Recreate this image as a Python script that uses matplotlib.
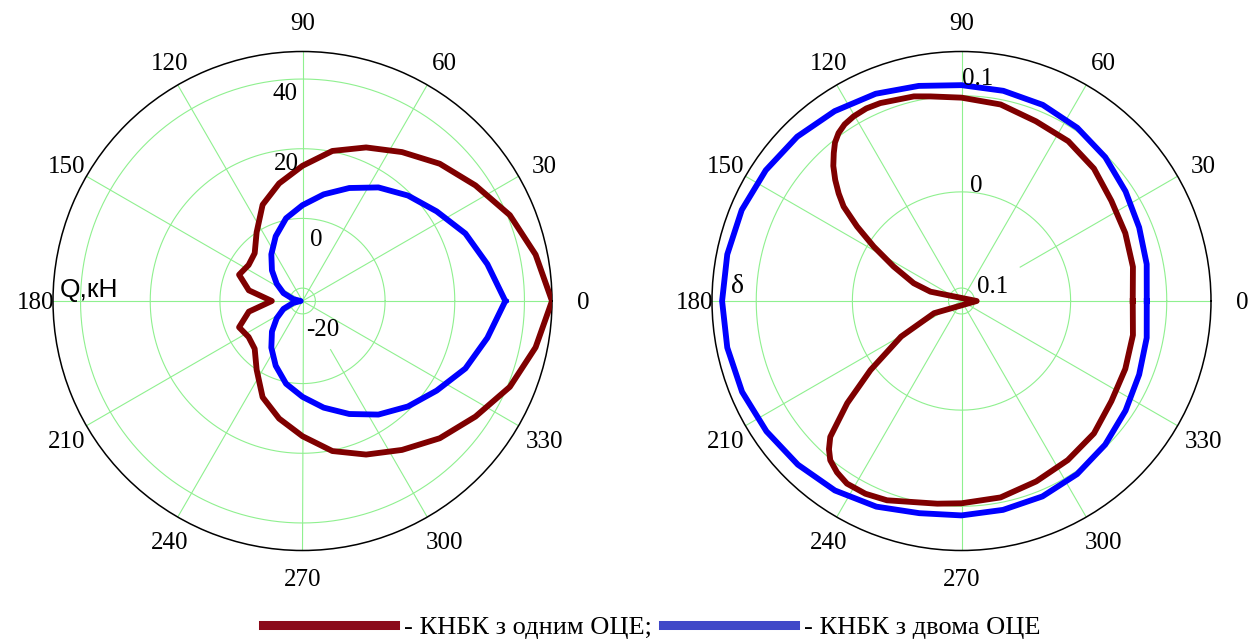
import numpy as np
import matplotlib.pyplot as plt
from matplotlib.lines import Line2D

# ── data ─────────────────────────────────────────────────────────────────────
# left chart: load Q, kN (Mathcad polar plot, step 11.25 deg)
q_angles = np.arange(0, 360.01, 11.25)
q_one = [47.9, 44.5, 40.7, 36.0, 32.0, 27.7, 24.0, 20.2, 15.1, 10.7, 6.2, 0.0,
         -4.3, -5.1, -4.0, -8.0, -14.9, -8.0, -4.0, -5.1, -4.3, 0.0, 6.2, 10.7,
         15.1, 20.2, 24.0, 27.7, 32.0, 36.0, 40.7, 44.5, 47.9]
q_two = [34.5, 30.4, 26.9, 22.6, 19.1, 15.5, 11.4, 7.5, 3.8, 0.5, -3.6, -7.6,
         -11.3, -14.8, -17.8, -21.0, -23.2, -21.0, -17.8, -14.8, -11.3, -7.6,
         -3.6, 0.5, 3.8, 7.5, 11.4, 15.5, 19.1, 22.6, 26.9, 30.4, 34.5]

# right chart: delta
d_two_angles = np.arange(0, 360.01, 11.25)
d_two = [0.0792, 0.0829, 0.0865, 0.0917, 0.0980, 0.1032, 0.1073, 0.1094,
         0.1110, 0.1146, 0.1198, 0.1240, 0.1282, 0.1313, 0.1339, 0.1349,
         0.1355, 0.1349, 0.1335, 0.1305, 0.1272, 0.1235, 0.1180, 0.1115,
         0.1095, 0.1080, 0.1065, 0.1030, 0.0978, 0.0917, 0.0865, 0.0829, 0.0792]
d_one_angles = [0, 11.25, 22.5, 33.75, 45, 56.25, 67.5, 78.75, 90, 98.6, 103.1,
                112.3, 116.3, 120.3, 123.5, 126.2, 128.6, 130.8, 133.5, 136.2,
                138.8, 141.3, 144.5, 148.2, 153.1, 159.6, 163.3, 0, 204, 210.5,
                217.2, 221.8, 226, 228.2, 230.5, 234, 237.9, 243.5, 249.5, 263.2,
                270, 281.25, 292.5, 303.75, 315, 326.25, 337.5, 348.75, 360]
d_one = [0.0646, 0.0683, 0.0709, 0.0740, 0.0813, 0.0864, 0.0888, 0.0949, 0.0980,
         0.1017, 0.1050, 0.1090, 0.1099, 0.1089, 0.1068, 0.1030, 0.0974, 0.0898,
         0.0802, 0.0685, 0.0563, 0.0436, 0.0199, -0.0061, -0.0344, -0.0605,
         -0.0798, -0.0977, -0.0823, -0.0406, 0.0053, 0.0459, 0.0830, 0.0933,
         0.1011, 0.1068, 0.1107, 0.1105, 0.1078, 0.0988, 0.0969, 0.0948, 0.0896,
         0.0855, 0.0813, 0.0740, 0.0709, 0.0683, 0.0646]

q_lim = (-23.7, 47.9)
q_rings = [-20, 0, 20, 40]
q_ring_labels = ["40", "20", "0", "-20"]
d_lim = (-0.1135, 0.146)
d_rings = [-0.1, 0, 0.1]
d_ring_labels = ["0.1", "0", "0.1"]

legend_labels = ["- КНБК з одним ОЦЕ;", "- КНБК з двома ОЦЕ"]

# ── styling ──────────────────────────────────────────────────────────────────
W, H, R = 1256, 641, 249.5
BROWN, BLUE, GRID = "#7f0000", "#0000ff", "#8ff08f"
SERIF = ["Liberation Serif", "DejaVu Serif"]
FS = 18

# theta label centres, px offsets from the pole (right, up)
theta_pos = {0: (281, 0), 30: (242, 136), 60: (142, 239), 90: (0, 279),
             120: (-133, 239), 150: (-236, 136), 180: (-267, 0),
             210: (-236, -139), 240: (-133, -240), 270: (0, -277),
             300: (142, -240), 330: (242, -139)}

fig = plt.figure(figsize=(W / 100, H / 100), dpi=100)


def put_text(ax, txt, dx, dy, **kw):
    # dx, dy in pixels from the pole
    ax.annotate(txt, xy=(0.5, 0.5), xycoords="axes fraction",
                xytext=(dx * 0.72, dy * 0.72 - 1.5), textcoords="offset points",
                ha="center", va="center", **kw)


def make_polar(cx, cy, rlim, rings, gaps):
    ax = fig.add_axes([(cx - R) / W, (H - cy - R) / H, 2 * R / W, 2 * R / H],
                      projection="polar")
    ax.grid(False)
    ax.set_xticks([])
    ax.set_yticks([])
    ax.spines["polar"].set_color("black")
    ax.spines["polar"].set_linewidth(1.1)
    th = np.linspace(0, 2 * np.pi, 361)
    for v in rings:
        ax.plot(th, np.full_like(th, v), color=GRID, lw=0.8, zorder=1)
    for a in range(0, 360, 30):
        start = gaps.get(a, rlim[0])
        ax.plot([np.radians(a)] * 2, [start, rlim[1]], color=GRID, lw=0.8, zorder=1)
    for a, (dx, dy) in theta_pos.items():
        put_text(ax, str(a), dx, dy, fontsize=FS, family=SERIF)
    return ax


# left: Q, kN
ax1 = make_polar(302.5, 301, q_lim, q_rings, {300: -7.6})
ax1.plot(np.radians(q_angles), q_one, color=BROWN, lw=4.2, zorder=3)
ax1.plot(np.radians(q_angles), q_two, color=BLUE, lw=4.2, zorder=3)
ax1.set_rlim(*q_lim)
for txt, (dx, dy) in zip(q_ring_labels, [(-17.5, 209), (-16, 139), (14, 63), (20, -27)]):
    put_text(ax1, txt, dx, dy, fontsize=FS, family=SERIF)
put_text(ax1, "Q,кН", -213.5, 13.5, fontsize=19,
         family=["Liberation Sans", "DejaVu Sans"])

# right: delta
ax2 = make_polar(961.5, 301, d_lim, d_rings, {30: -0.043})
ax2.plot(np.radians(d_two_angles), d_two, color=BLUE, lw=4.2, zorder=3)
ax2.plot(np.radians(d_one_angles), d_one, color=BROWN, lw=4.2, zorder=3)
ax2.set_rlim(*d_lim)
for txt, (dx, dy) in zip(d_ring_labels, [(16.5, 224), (15, 117), (31.5, 16)]):
    put_text(ax2, txt, dx, dy, fontsize=FS, family=SERIF)
put_text(ax2, "δ", -223.5, 17, fontsize=20, family=SERIF)

# legend below both charts
handles = [Line2D([], [], color="#8b0a1a", lw=6.5),
           Line2D([], [], color="#4048c8", lw=6.5)]
fig.legend(handles, legend_labels, loc="center", bbox_to_anchor=(0.519, 0.021),
           ncol=2, frameon=False, handlelength=5.0, handletextpad=0.34,
           columnspacing=0.45, borderpad=0, prop={"family": SERIF, "size": 19})

fig.savefig("out.png", dpi=100)
